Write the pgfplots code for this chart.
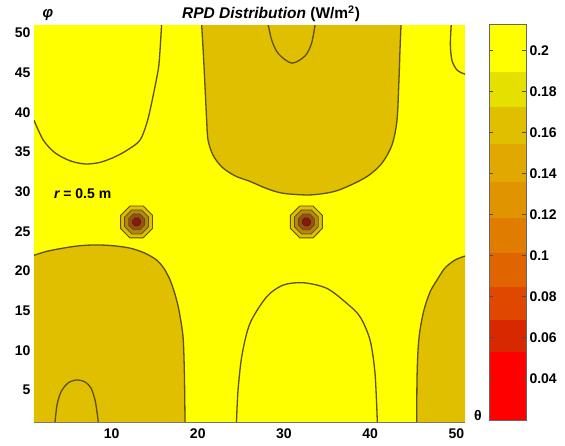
\documentclass[border=0pt]{standalone}
\usepackage{fontspec}
\setmainfont{Liberation Sans}
\usepackage{pgfplots}
\pgfplotsset{compat=1.18}
\definecolor{cYellow}{RGB}{255,255,0}
\definecolor{cGold}{RGB}{224,190,0}
\definecolor{cLine}{RGB}{92,80,12}
\definecolor{cS1}{RGB}{176,136,18}
\definecolor{cS2}{RGB}{150,80,20}
\definecolor{cS3}{RGB}{128,30,10}
\definecolor{b1}{RGB}{255,0,0}
\definecolor{b2}{RGB}{216,40,0}
\definecolor{b3}{RGB}{224,72,0}
\definecolor{b4}{RGB}{224,100,0}
\definecolor{b5}{RGB}{224,124,0}
\definecolor{b6}{RGB}{224,148,0}
\definecolor{b7}{RGB}{224,168,0}
\definecolor{b8}{RGB}{224,190,0}
\definecolor{b9}{RGB}{230,224,0}
\definecolor{b10}{RGB}{255,255,0}
\begin{document}
\begin{tikzpicture}
\useasboundingbox (0pt,0pt) rectangle (565pt,445pt);
\begin{axis}[
  at={(34pt,23pt)}, anchor=south west,
  width=431pt, height=397pt, scale only axis,
  xmin=1, xmax=51, ymin=1, ymax=51,
  axis x line*=bottom, axis y line*=left,
  x axis line style={draw=black!55, line width=1.2pt, -},
  y axis line style={draw=none},
  xtick={10,20,30,40,50}, ytick={5,10,15,20,25,30,35,40,45,50},
  major tick length=0pt,
  /pgf/number format/assume math mode=true,
  every tick label/.append style={font=\bfseries\fontsize{14}{16}\selectfont},
  xticklabel style={yshift=-3pt},
  no markers,
  clip=true,
]
% background (value ~0.2 band)
\addplot[fill=cYellow, draw=none] coordinates {(1,1) (51,1) (51,51) (1,51)} -- cycle;
% gold regions
\addplot[fill=cGold, draw=none] coordinates {
 (20.45,51) (20.64,47.5) (20.84,43.2) (21.03,39.0) (21.19,36.5) (21.77,34.6) (22.81,33.1)
 (24.32,32.0) (26.06,31.3) (28.0,30.4) (29.92,29.8) (33.02,29.6) (35.72,30.0) (37.66,30.8)
 (39.75,32.0) (41.37,33.6) (42.53,35.9) (43.11,39.0) (43.34,44.1) (43.46,47.9) (43.58,51)} -- cycle;
\addplot[fill=cGold, draw=none] coordinates {
 (1,22.0) (2.5,22.5) (4.4,22.9) (6.3,23.2) (8.27,23.3) (10.2,23.2) (12.14,22.9) (13.8,22.3)
 (15.23,21.4) (16.1,20.3) (16.78,18.9) (17.3,17.3) (17.74,15.5) (18.1,13.3) (18.32,11.3)
 (18.45,7) (18.52,1) (1,1)} -- cycle;
\addplot[fill=cGold, draw=none] coordinates {
 (45.4,1) (45.43,6.29) (45.55,10.07) (45.78,12.59) (46.24,15.11) (46.94,17.37) (47.75,18.88)
 (48.68,20.40) (49.84,21.40) (51,21.9) (51,1)} -- cycle;
% contour lines
\addplot[cLine, line width=1.3pt, smooth, tension=0.5] coordinates {
 (20.45,51) (20.64,47.5) (20.84,43.2) (21.03,39.0) (21.19,36.5) (21.77,34.6) (22.81,33.1)
 (24.32,32.0) (26.06,31.3) (28.0,30.4) (29.92,29.8) (33.02,29.6) (35.72,30.0) (37.66,30.8)
 (39.75,32.0) (41.37,33.6) (42.53,35.9) (43.11,39.0) (43.34,44.1) (43.46,47.9) (43.58,51)};
\addplot[cLine, line width=1.3pt, smooth, tension=0.5] coordinates {
 (1,22.0) (2.5,22.5) (4.4,22.9) (6.3,23.2) (8.27,23.3) (10.2,23.2) (12.14,22.9) (13.8,22.3)
 (15.23,21.4) (16.1,20.3) (16.78,18.9) (17.3,17.3) (17.74,15.5) (18.1,13.3) (18.32,11.3)
 (18.45,7) (18.52,1)};
\addplot[cLine, line width=1.3pt, smooth, tension=0.5] coordinates {
 (45.4,1) (45.43,6.29) (45.55,10.07) (45.78,12.59) (46.24,15.11) (46.94,17.37) (47.75,18.88)
 (48.68,20.40) (49.84,21.40) (51,21.9)};
\addplot[cLine, line width=1.3pt, smooth, tension=0.5] coordinates {
 (1,39.0) (2.08,36.5) (3.44,34.9) (5.18,33.9) (6.92,33.5) (8.66,33.7) (10.4,34.4) (11.9,35.3)
 (13.3,36.5) (14.1,38.7) (14.65,41.2) (15.4,45.3) (15.6,47.5) (15.8,51)};
\addplot[cLine, line width=1.3pt, smooth, tension=0.5] coordinates {
 (28.18,51) (28.58,49.1) (29.34,47.4) (30.9,46.2) (32.44,47.1) (33.2,48.7) (33.6,51)};
\addplot[cLine, line width=1.3pt, smooth, tension=0.5] coordinates {
 (24.49,1) (24.67,5.03) (25.13,9.44) (26.06,13.43) (28.0,16.78) (29.92,18.25) (32.24,18.54)
 (34.96,17.84) (37.28,15.95) (38.82,14.26) (39.98,11.33) (40.56,7.13) (40.83,1)};
\addplot[cLine, line width=1.3pt, smooth, tension=0.5] coordinates {
 (3.44,1) (3.67,3.14) (4.13,4.78) (4.94,5.91) (5.95,6.29) (6.92,6.04) (7.61,5.28) (8.08,3.77)
 (8.31,2.26) (8.46,1)};
\addplot[cLine, line width=1.3pt, smooth, tension=0.5] coordinates {
 (49.4,51) (49.3,48.5) (49.5,46.5) (50.1,45.3) (51,44.8)};
% source 1 rings
\addplot[fill=cGold, draw=cLine, line width=0.9pt] coordinates {(14.75,27.03) (13.67,28.21) (12.13,28.21) (11.05,27.03) (11.05,25.37) (12.13,24.19) (13.67,24.19) (14.75,25.37)} -- cycle;
\addplot[fill=cS1, draw=cLine, line width=0.7pt] coordinates {(14.29,26.82) (13.47,27.71) (12.33,27.71) (11.51,26.82) (11.51,25.58) (12.33,24.69) (13.47,24.69) (14.29,25.58)} -- cycle;
\addplot[fill=cS2, draw=cLine, line width=0.6pt] coordinates {(13.82,26.62) (13.28,27.2) (12.52,27.2) (11.98,26.62) (11.98,25.78) (12.52,25.2) (13.28,25.2) (13.82,25.78)} -- cycle;
\addplot[fill=cS3, draw=cS3!70!black, line width=0.5pt] coordinates {(13.36,26.41) (13.09,26.7) (12.71,26.7) (12.44,26.41) (12.44,25.99) (12.71,25.7) (13.09,25.7) (13.36,25.99)} -- cycle;
% source 2 rings
\addplot[fill=cGold, draw=cLine, line width=0.9pt] coordinates {(34.45,27.03) (33.37,28.21) (31.83,28.21) (30.75,27.03) (30.75,25.37) (31.83,24.19) (33.37,24.19) (34.45,25.37)} -- cycle;
\addplot[fill=cS1, draw=cLine, line width=0.7pt] coordinates {(33.99,26.82) (33.17,27.71) (32.03,27.71) (31.21,26.82) (31.21,25.58) (32.03,24.69) (33.17,24.69) (33.99,25.58)} -- cycle;
\addplot[fill=cS2, draw=cLine, line width=0.6pt] coordinates {(33.52,26.62) (32.98,27.2) (32.22,27.2) (31.68,26.62) (31.68,25.78) (32.22,25.2) (32.98,25.2) (33.52,25.78)} -- cycle;
\addplot[fill=cS3, draw=cS3!70!black, line width=0.5pt] coordinates {(33.06,26.41) (32.79,26.7) (32.41,26.7) (32.14,26.41) (32.14,25.99) (32.41,25.7) (32.79,25.7) (33.06,25.99)} -- cycle;
% texts
\node[anchor=west, font=\bfseries\fontsize{14}{16}\selectfont, inner sep=0pt] at (axis cs:3.3,29.8) {\itshape r\upshape{} = 0.5 m};
\end{axis}
\node[font=\fontsize{15.5}{17}\selectfont] at (271pt,431pt) {\bfseries\itshape RPD Distribution \upshape(W/m\textsuperscript{2})};
\node[font=\bfseries\itshape\fontsize{15}{17}\selectfont] at (48pt,430pt) {φ};
\node[font=\bfseries\fontsize{14}{16}\selectfont] at (478pt,30pt) {θ};
\begin{axis}[
  at={(489pt,25pt)}, anchor=south west,
  width=37pt, height=396pt, scale only axis,
  xmin=0, xmax=1, ymin=0.0196, ymax=0.2131,
  xtick=\empty,
  ytick={0.04,0.06,0.08,0.1,0.12,0.14,0.16,0.18,0.2},
  yticklabels={0.04,0.06,0.08,0.1,0.12,0.14,0.16,0.18,0.2},
  yticklabel pos=right,
  tick align=inside, major tick length=4pt,
  tick style={black!70, line width=0.8pt},
  axis line style={black!60, line width=0.8pt},
  every tick label/.append style={font=\bfseries\fontsize{14}{16}\selectfont},
  no markers, axis on top,
]
\addplot[fill=b1, draw=none] coordinates {(0,0.0196) (1,0.0196) (1,0.0528) (0,0.0528)} -- cycle;
\addplot[fill=b2, draw=none] coordinates {(0,0.0528) (1,0.0528) (1,0.0685) (0,0.0685)} -- cycle;
\addplot[fill=b3, draw=none] coordinates {(0,0.0685) (1,0.0685) (1,0.0847) (0,0.0847)} -- cycle;
\addplot[fill=b4, draw=none] coordinates {(0,0.0847) (1,0.0847) (1,0.1013) (0,0.1013)} -- cycle;
\addplot[fill=b5, draw=none] coordinates {(0,0.1013) (1,0.1013) (1,0.1185) (0,0.1185)} -- cycle;
\addplot[fill=b6, draw=none] coordinates {(0,0.1185) (1,0.1185) (1,0.1361) (0,0.1361)} -- cycle;
\addplot[fill=b7, draw=none] coordinates {(0,0.1361) (1,0.1361) (1,0.1543) (0,0.1543)} -- cycle;
\addplot[fill=b8, draw=none] coordinates {(0,0.1543) (1,0.1543) (1,0.1724) (0,0.1724)} -- cycle;
\addplot[fill=b9, draw=none] coordinates {(0,0.1724) (1,0.1724) (1,0.1896) (0,0.1896)} -- cycle;
\addplot[fill=b10, draw=none] coordinates {(0,0.1896) (1,0.1896) (1,0.2131) (0,0.2131)} -- cycle;
\end{axis}
\end{tikzpicture}
\end{document}
